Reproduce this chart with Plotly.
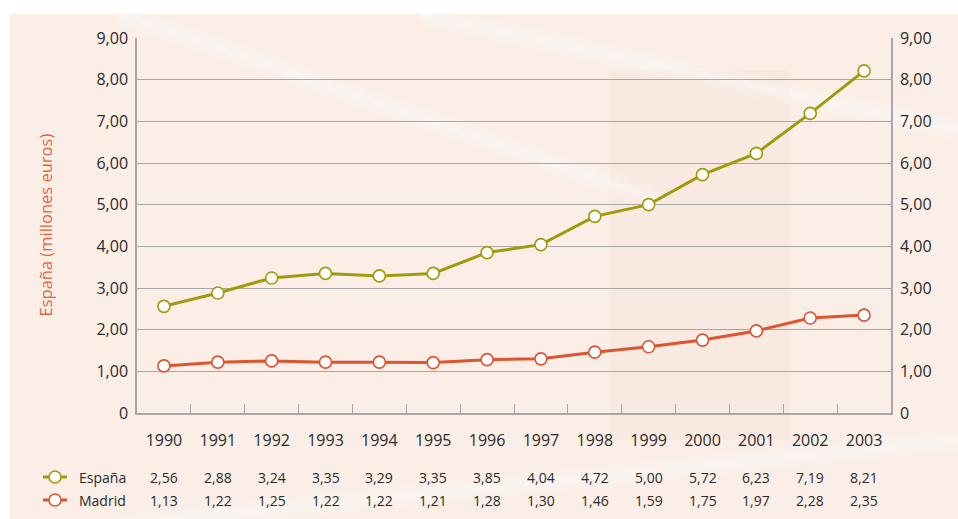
import plotly.graph_objects as go

years = ["1990", "1991", "1992", "1993", "1994", "1995", "1996", "1997",
         "1998", "1999", "2000", "2001", "2002", "2003"]
espana = [2.56, 2.88, 3.24, 3.35, 3.29, 3.35, 3.85, 4.04, 4.72, 5.00, 5.72, 6.23, 7.19, 8.21]
madrid = [1.13, 1.22, 1.25, 1.22, 1.22, 1.21, 1.28, 1.30, 1.46, 1.59, 1.75, 1.97, 2.28, 2.35]
y_ticks = [0, 1, 2, 3, 4, 5, 6, 7, 8, 9]
y_ticktext = ["0", "1,00", "2,00", "3,00", "4,00", "5,00", "6,00", "7,00", "8,00", "9,00"]
series_names = ["España", "Madrid"]
y_title = "España (millones euros)"

C_ESP = "#A29A0C"
C_MAD = "#DC5430"
C_TITLE = "#E2653E"
TXT = "#2b2b2b"
GRID = "#A8A8AA"
FONT = "Open Sans"

W, H = 958, 519
L, R, T, B = 137, 67, 38, 106
PW, PH = W - L - R, H - T - B


def px_x(p):
    return (p - L) / PW


def px_y(p):
    return (H - B - p) / PH


def fmt(v):
    return f"{v:.2f}".replace(".", ",")


fig = go.Figure()
for vals, col in [(espana, C_ESP), (madrid, C_MAD)]:
    fig.add_trace(go.Scatter(
        x=years, y=vals, mode="lines+markers",
        line=dict(color=col, width=3),
        marker=dict(size=12, color="white", line=dict(color=col, width=1.6)),
        showlegend=False, hoverinfo="skip"))

# invisible trace to activate right axis
fig.add_trace(go.Scatter(x=years, y=espana, yaxis="y2", mode="lines",
                         line=dict(width=0), opacity=0, showlegend=False, hoverinfo="skip"))

shapes = []
# peach page background
shapes.append(dict(type="rect", xref="paper", yref="paper", layer="below",
                   x0=px_x(10), x1=px_x(W + 5), y0=px_y(H + 5), y1=px_y(14),
                   fillcolor="#FAEEE7", line=dict(width=0)))
# soft darker band
shapes.append(dict(type="rect", xref="paper", yref="paper", layer="below",
                   x0=px_x(610), x1=px_x(790), y0=px_y(440), y1=px_y(70),
                   fillcolor="rgba(240,215,200,0.18)", line=dict(width=0)))
# faint white streaks (blurred with stacked widths)
for (x0, y0, x1, y1) in [(120, 14, 660, 200), (420, 14, 958, 130),
                         (120, 525, 958, 440)]:
    for w, a in [(22, 0.12), (12, 0.15), (5, 0.25)]:
        shapes.append(dict(type="line", xref="paper", yref="paper", layer="below",
                           x0=px_x(x0), y0=px_y(y0), x1=px_x(x1), y1=px_y(y1),
                           line=dict(color=f"rgba(255,255,255,{a})", width=w)))

annotations = []
# table values
for row_vals, ypx in [(espana, 477), (madrid, 500)]:
    for i, v in enumerate(row_vals):
        annotations.append(dict(x=i, y=px_y(ypx), xref="x", yref="paper",
                                text=fmt(v), showarrow=False, xanchor="center",
                                yanchor="middle", font=dict(family=FONT, size=14, color=TXT)))
# legend
for name, col, ypx in [(series_names[0], C_ESP, 477), (series_names[1], C_MAD, 500)]:
    shapes.append(dict(type="line", xref="paper", yref="paper",
                       x0=px_x(43), x1=px_x(67), y0=px_y(ypx), y1=px_y(ypx),
                       line=dict(color=col, width=3)))
    shapes.append(dict(type="circle", xref="paper", yref="paper",
                       xsizemode="pixel", ysizemode="pixel",
                       xanchor=px_x(55), yanchor=px_y(ypx),
                       x0=-6, x1=6, y0=-6, y1=6,
                       fillcolor="white", line=dict(color=col, width=1.6)))
    annotations.append(dict(x=px_x(77), y=px_y(ypx), xref="paper", yref="paper",
                            text=name, showarrow=False, xanchor="left", yanchor="middle",
                            font=dict(family=FONT, size=14, color=TXT)))
# y title
annotations.append(dict(x=px_x(45), y=0.5, xref="paper", yref="paper", text=y_title,
                        textangle=-90, showarrow=False, xanchor="center", yanchor="middle",
                        font=dict(family=FONT, size=16.5, color=C_TITLE)))

yax = dict(range=[0, 9], tickvals=y_ticks, ticktext=y_ticktext,
           showgrid=True, gridcolor=GRID, gridwidth=1,
           showline=True, linecolor=GRID, linewidth=1.5, zeroline=False,
           ticks="", ticklabelstandoff=4,
           tickfont=dict(family=FONT, size=16, color=TXT), fixedrange=True)

fig.update_layout(
    width=W, height=H, autosize=False,
    margin=dict(l=L, r=R, t=T, b=B),
    paper_bgcolor="white", plot_bgcolor="rgba(0,0,0,0)",
    xaxis=dict(type="category", range=[-0.5, len(years) - 0.5],
               tickson="boundaries", ticks="inside", ticklen=9,
               tickcolor=GRID, tickwidth=1.2, showgrid=False,
               showline=True, linecolor=GRID, linewidth=1.5, mirror=False,
               ticklabelstandoff=12, fixedrange=True,
               tickfont=dict(family=FONT, size=16, color=TXT)),
    yaxis=yax,
    yaxis2=dict(yax, overlaying="y", side="right", showgrid=False, matches="y"),
    shapes=shapes, annotations=annotations,
    showlegend=False,
)

fig.write_html("out.html", config=dict(displayModeBar=False),
               post_script="document.body.style.margin='0';document.body.style.overflow='hidden';")
